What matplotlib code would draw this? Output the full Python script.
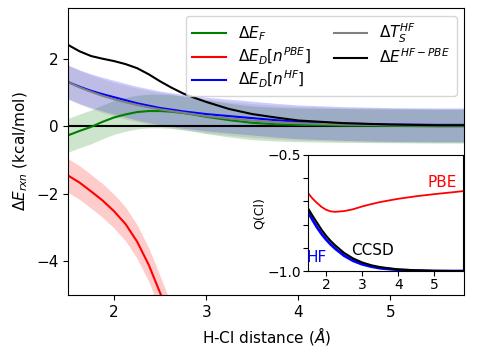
import numpy as np
import matplotlib
matplotlib.use('Agg')
import matplotlib.pyplot as plt

# main panel, H-Cl distance (Angstrom)
r = [1.5, 1.625, 1.75, 1.875, 2.0, 2.125, 2.25, 2.375, 2.5, 2.625, 2.75, 2.875,
     3.0, 3.25, 3.5, 3.75, 4.0, 4.5, 5.0, 5.5, 5.8]
dE_F = [-0.27, -0.14, -0.02, 0.13, 0.26, 0.35, 0.42, 0.45, 0.45, 0.43, 0.39, 0.34,
        0.28, 0.18, 0.10, 0.06, 0.04, 0.02, 0.01, 0.0, 0.0]
dE_D_hf = [1.31, 1.17, 1.05, 0.95, 0.86, 0.77, 0.68, 0.61, 0.54, 0.49, 0.44, 0.40,
           0.36, 0.30, 0.24, 0.18, 0.13, 0.08, 0.05, 0.04, 0.04]
dT_S = [1.31, 1.15, 1.02, 0.90, 0.80, 0.71, 0.63, 0.56, 0.50, 0.45, 0.40, 0.35,
        0.30, 0.23, 0.17, 0.12, 0.09, 0.05, 0.03, 0.02, 0.02]
dE_hfpbe = [2.41, 2.22, 2.08, 2.0, 1.93, 1.84, 1.72, 1.54, 1.33, 1.14, 0.97, 0.84,
            0.72, 0.51, 0.36, 0.26, 0.17, 0.09, 0.05, 0.03, 0.03]

r_pbe = [1.5, 1.625, 1.75, 1.875, 2.0, 2.125, 2.25, 2.375, 2.5, 2.625, 2.75]
dE_D_pbe = [-1.46, -1.67, -1.93, -2.2, -2.52, -2.9, -3.42, -4.1, -4.94, -5.8, -6.6]

err = 0.5  # band half-width, kcal/mol

# inset: charge on Cl
r_q = [1.5, 1.625, 1.75, 1.875, 2.0, 2.125, 2.25, 2.5, 2.75, 3.0, 3.25, 3.5,
       4.0, 4.5, 5.0, 5.5, 5.8]
q_pbe = [-0.664, -0.688, -0.707, -0.724, -0.736, -0.743, -0.745, -0.742, -0.734,
         -0.722, -0.712, -0.703, -0.689, -0.678, -0.669, -0.661, -0.656]
q_ccsd = [-0.73, -0.762, -0.792, -0.822, -0.848, -0.87, -0.889, -0.922, -0.946,
          -0.963, -0.975, -0.983, -0.993, -0.997, -0.999, -1.0, -1.0]
q_hf = [-0.745, -0.78, -0.812, -0.84, -0.864, -0.885, -0.903, -0.934, -0.956,
        -0.971, -0.981, -0.988, -0.995, -0.998, -1.0, -1.0, -1.0]

fig = plt.figure(figsize=(4.79, 3.52), dpi=100)
ax = fig.add_axes([0.142, 0.162, 0.827, 0.815])

def band(x, y, c):
    y = np.array(y)
    ax.fill_between(x, y - err, y + err, color=c, alpha=0.2, lw=0)

band(r, dE_F, 'green')
band(r_pbe, dE_D_pbe, 'red')
band(r, dE_D_hf, 'blue')
band(r, dT_S, 'gray')

ax.axhline(0, color='k', lw=1.5)
ax.plot(r, dE_F, color='green', lw=1.5, label=r'$\Delta E_F$')
ax.plot(r_pbe, dE_D_pbe, color='red', lw=1.5, label=r'$\Delta E_D[n^{PBE}]$')
ax.plot(r, dE_D_hf, color='blue', lw=1.5, label=r'$\Delta E_D[n^{HF}]$')
ax.plot(r, dT_S, color='gray', lw=1.5, label=r'$\Delta T_S^{HF}$')
ax.plot(r, dE_hfpbe, color='k', lw=1.5, label=r'$\Delta E^{HF-PBE}$')

ax.set_xlim(1.5, 5.8)
ax.set_ylim(-5, 3.5)
ax.set_xticks([2, 3, 4, 5])
ax.set_yticks([-4, -2, 0, 2])
ax.tick_params(labelsize=11)
ax.set_xlabel(r'H-Cl distance ($\AA$)', fontsize=11)
ax.set_ylabel(r'$\Delta E_{rxn}$ (kcal/mol)', fontsize=11)
ax.legend(ncol=2, loc='upper right', fontsize=11, handlelength=2.2,
          labelspacing=0.15, columnspacing=1.5, borderpad=0.4)

ins = fig.add_axes([0.643, 0.230, 0.324, 0.330])
ins.plot(r_q, q_pbe, color='red', lw=1.3)
ins.plot(r_q, q_hf, color='blue', lw=2)
ins.plot(r_q, q_ccsd, color='k', lw=1.5)
ins.set_xlim(1.5, 5.8)
ins.set_ylim(-1.0, -0.5)
ins.set_xticks([2, 3, 4, 5])
ins.set_yticks([-1.0, -0.9, -0.8, -0.7, -0.6, -0.5])
ins.set_yticklabels(['\u22121.0', '', '', '', '', '\u22120.5'])
ins.tick_params(labelsize=10, pad=1.5)
ins.set_ylabel('Q(Cl)', fontsize=9, labelpad=1)
ins.text(5.22, -0.617, 'PBE', color='red', fontsize=11, ha='center', va='center')
ins.text(3.28, -0.91, 'CCSD', color='k', fontsize=11, ha='center', va='center')
ins.text(1.75, -0.94, 'HF', color='blue', fontsize=11, ha='center', va='center')

fig.savefig('out.png', dpi=100)
